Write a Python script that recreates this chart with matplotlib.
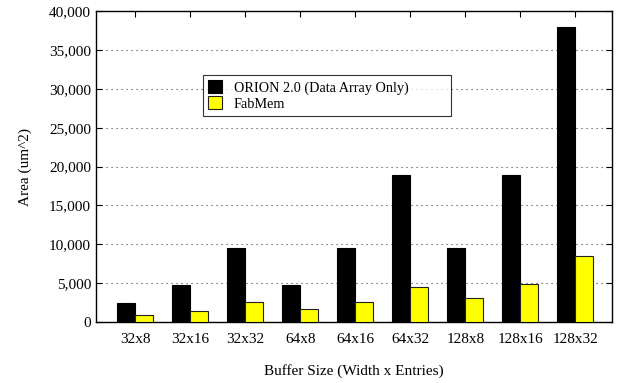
import matplotlib
matplotlib.use("Agg")
import matplotlib.pyplot as plt
import numpy as np
from matplotlib.ticker import FuncFormatter

plt.rcParams["font.family"] = ["Liberation Serif", "DejaVu Serif"]
plt.rcParams["font.size"] = 11

categories = ["32x8", "32x16", "32x32", "64x8", "64x16", "64x32",
              "128x8", "128x16", "128x32"]
orion = [2400, 4750, 9500, 4750, 9500, 18950, 9500, 18950, 37900]
fabmem = [870, 1420, 2530, 1630, 2610, 4460, 3050, 4890, 8530]

fig = plt.figure(figsize=(6.19, 3.83), dpi=100)
ax = fig.add_axes([0.155, 0.159, 0.834, 0.812])

x = np.arange(len(categories))
w = 0.33
ax.bar(x - w / 2, orion, width=w, color="black", edgecolor="black",
       linewidth=0.8, label="ORION 2.0 (Data Array Only)", zorder=3)
ax.bar(x + w / 2, fabmem, width=w, color="#FFFF00", edgecolor="#222222",
       linewidth=0.8, label="FabMem", zorder=3)

ax.set_xlim(-0.71, 8.67)
ax.set_ylim(0, 40000)
ax.set_xticks(x)
ax.set_xticklabels(categories)
ax.set_yticks(np.arange(0, 40001, 5000))
ax.yaxis.set_major_formatter(FuncFormatter(lambda v, p: f"{int(v):,}"))
ax.tick_params(axis="both", direction="in", length=4, width=0.8,
               top=True, right=True, labelsize=11)
ax.tick_params(axis="x", pad=8)
ax.yaxis.grid(True, color="#444444", linestyle=(0, (1, 3.5)), linewidth=0.8,
              zorder=1)
for s in ax.spines.values():
    s.set_linewidth(1.0)

ax.set_ylabel("Area (um^2)", fontsize=11, labelpad=12)
ax.set_xlabel("Buffer Size (Width x Entries)", fontsize=11, labelpad=13)

leg = ax.legend(loc="upper left", bbox_to_anchor=(0.207, 0.662, 0.48, 0.132),
                mode="expand", fontsize=10.3, frameon=True, fancybox=False,
                edgecolor="black", handlelength=1.0, handleheight=1.0,
                borderpad=0.35, labelspacing=0.12, handletextpad=0.8,
                borderaxespad=0)
leg.get_frame().set_linewidth(0.8)
leg.set_zorder(5)

fig.savefig("out.png", dpi=100)
